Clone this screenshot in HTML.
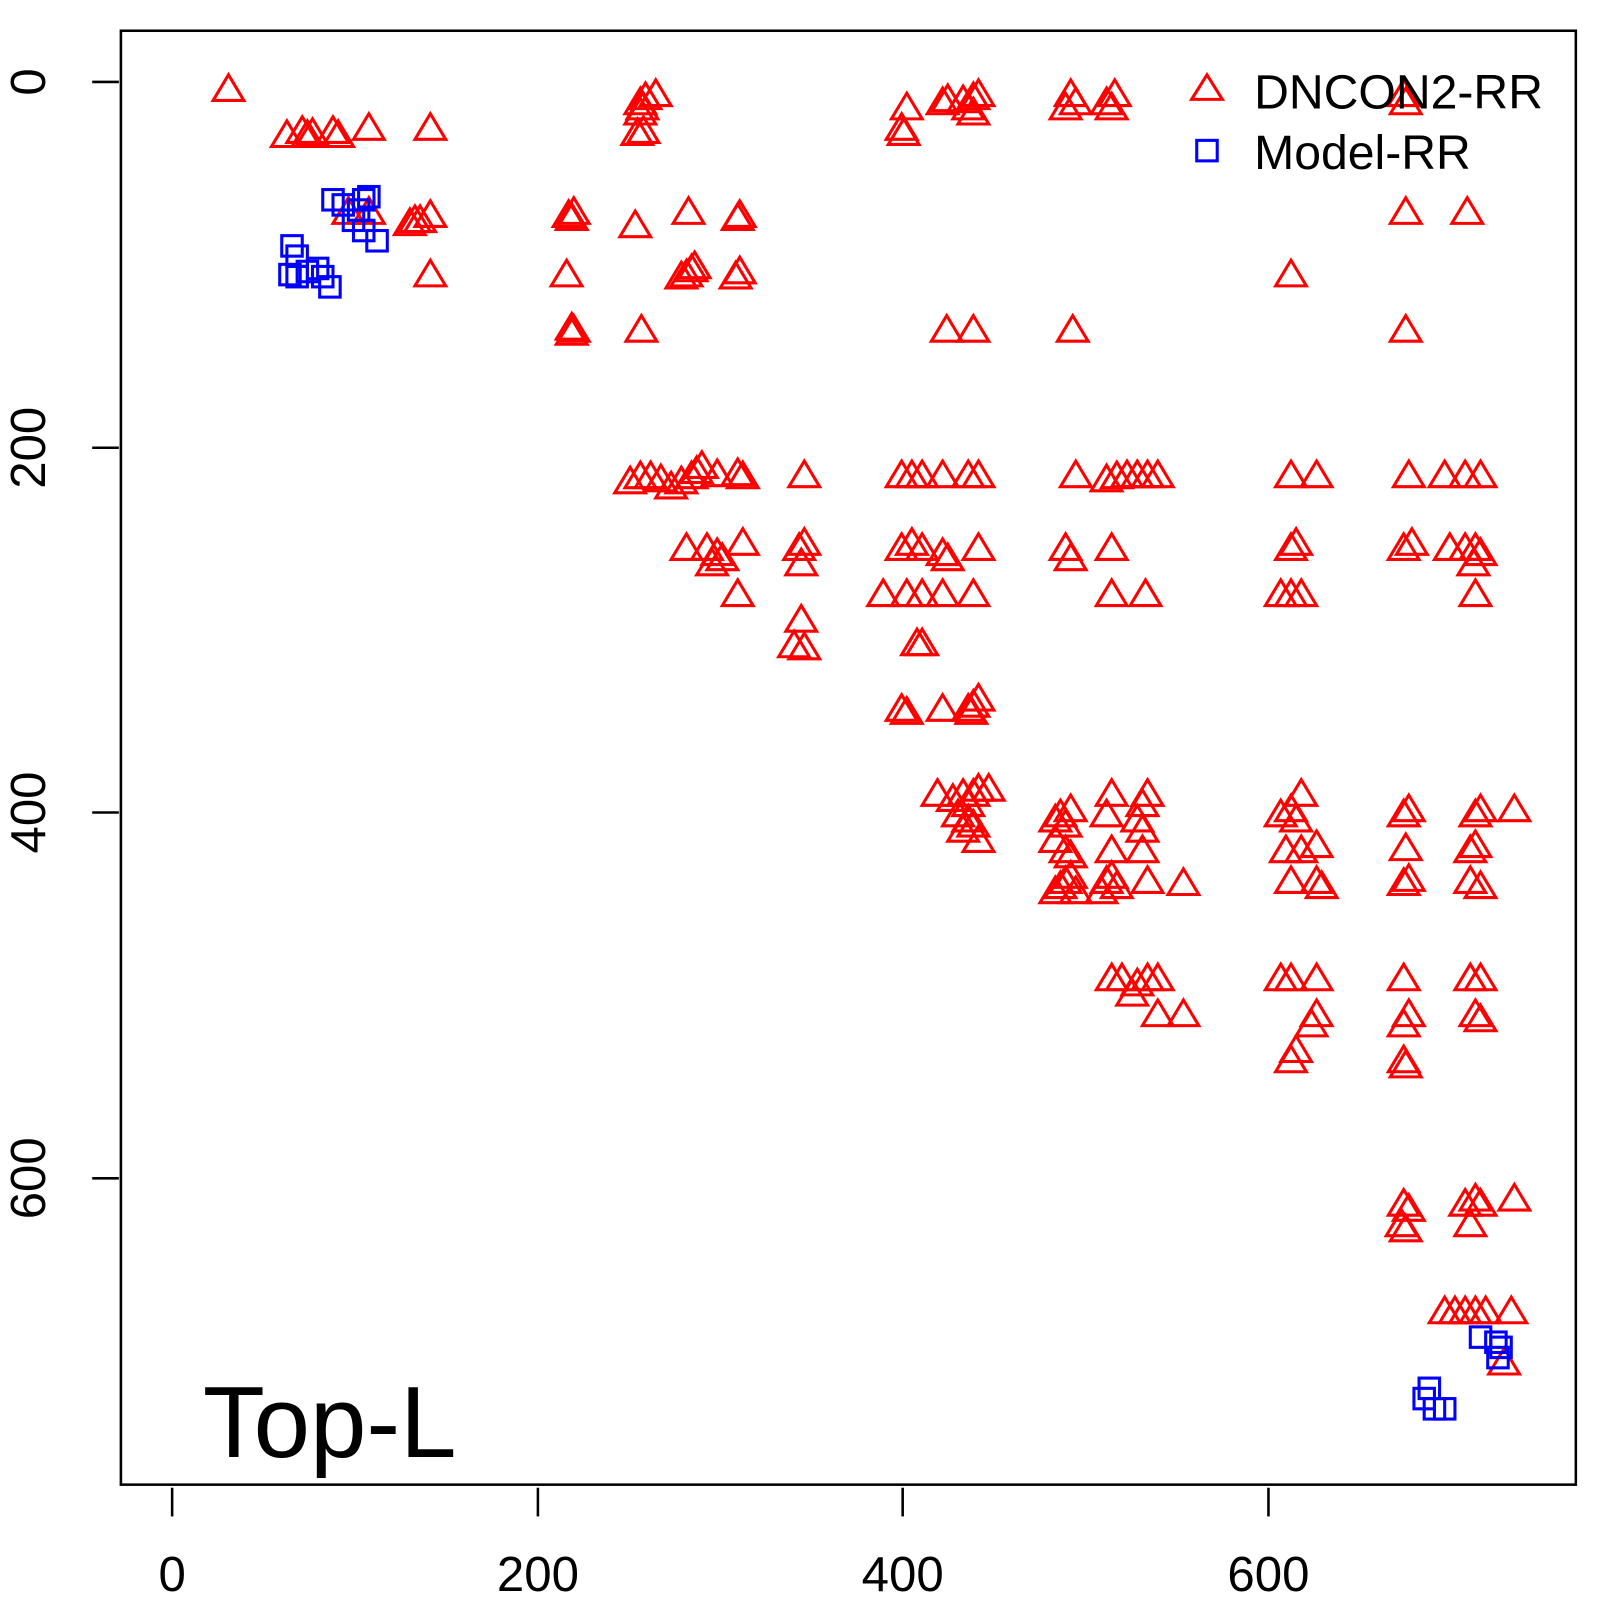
<!DOCTYPE html>
<html><head><style>body{margin:0;background:#fff}</style></head><body>
<svg id="s" width="1600" height="1600" xmlns="http://www.w3.org/2000/svg" font-family="Liberation Sans, sans-serif">
<g transform="scale(1.0246)">
<rect x="118" y="30" width="1420" height="1419" fill="none" stroke="#000" stroke-width="2.5"/>
<g stroke="#000" stroke-width="2.5">
<line x1="168" y1="1452" x2="168" y2="1480"/><line x1="525" y1="1452" x2="525" y2="1480"/>
<line x1="881" y1="1452" x2="881" y2="1480"/><line x1="1238" y1="1452" x2="1238" y2="1480"/>
<line x1="90" y1="80" x2="116" y2="80"/><line x1="90" y1="437" x2="116" y2="437"/>
<line x1="90" y1="793" x2="116" y2="793"/><line x1="90" y1="1150" x2="116" y2="1150"/>
</g>
<g font-size="48" text-anchor="middle">
<text x="168" y="1553">0</text><text x="525" y="1553">200</text><text x="881" y="1553">400</text><text x="1238" y="1553">600</text>
<text transform="translate(44,80) rotate(-90)">0</text>
<text transform="translate(44,437) rotate(-90)">200</text>
<text transform="translate(44,793) rotate(-90)">400</text>
<text transform="translate(44,1150) rotate(-90)">600</text>
</g>
<text x="198" y="1422" font-size="99">Top-L</text>
<g id="pts" fill="none" stroke-width="3"></g>
<path d="M1178,73 L1163,97 L1193,97 Z" fill="none" stroke="red" stroke-width="3"/>
<rect x="1168" y="137" width="20" height="20" fill="none" stroke="blue" stroke-width="3"/>
<text x="1224" y="106" font-size="47">DNCON2-RR</text>
<text x="1224" y="165" font-size="47">Model-RR</text>
</g>
</svg>
<script>
var t=[223,87,280,132,295,128,300,132,305,130,330,132,325,128,360,125,420,125,340,207,360,207,400,218,405,215,410,215,420,210,420,268,555,210,560,207,558,213,553,268,558,325,560,322,558,320,620,220,626,322,625,100,630,95,640,92,627,105,622,130,628,128,625,110,672,207,665,270,670,268,675,263,678,260,720,213,722,210,718,270,722,265,885,105,882,130,880,125,920,100,925,97,940,98,950,95,955,92,950,110,945,105,924,322,950,322,1045,92,1050,100,1040,105,1080,100,1088,92,1085,105,1047,322,1372,100,1370,92,1372,207,1372,322,1260,268,1432,207,
615,470,625,465,635,465,645,468,655,475,665,470,675,465,680,460,685,455,700,463,725,465,720,462,785,464,880,464,890,464,900,464,920,464,945,464,955,464,1050,464,1080,468,1090,465,1100,464,1110,464,1120,464,1130,464,1260,464,1285,464,1375,464,1410,464,1430,464,1445,464,
670,535,690,535,700,540,695,550,725,530,705,545,720,580,780,535,785,530,782,550,880,535,890,530,900,535,920,540,925,545,955,535,1040,535,1045,545,1085,535,1260,535,1265,530,1370,535,1378,530,1415,535,1430,535,1440,535,1445,540,1438,550,1440,580,862,580,885,580,900,580,920,580,950,580,1085,580,1118,580,1250,580,1260,580,1270,580,
782,605,775,630,785,632,895,628,900,628,880,692,885,695,920,692,945,692,950,688,955,682,948,695,
915,775,930,780,940,775,945,785,950,775,955,770,965,770,935,795,945,800,950,805,955,820,940,810,
1030,800,1035,795,1040,805,1045,790,1040,830,1045,835,1030,820,1085,775,1080,795,1085,830,1110,800,1115,785,1120,775,1115,810,1115,830,1120,860,1155,862,1030,870,1035,865,1040,860,1045,855,1050,870,1080,860,1085,855,1090,865,1075,870,
1250,795,1260,790,1270,775,1265,800,1255,830,1270,830,1285,825,1260,860,1285,860,1290,865,1370,795,1375,790,1372,828,1370,862,1375,858,1440,795,1445,790,1435,830,1440,825,1445,865,1435,860,1478,790,
1085,955,1095,955,1110,960,1120,955,1130,955,1105,970,1130,990,1155,990,1250,955,1260,955,1285,955,1285,990,1280,1000,1265,1025,1260,1035,1370,955,1375,990,1370,1000,1370,1035,1372,1040,1435,955,1445,955,1440,990,1445,995,
1370,1175,1372,1200,1368,1195,1375,1180,1430,1175,1440,1170,1445,1175,1435,1195,1478,1170,
1410,1280,1420,1280,1430,1280,1440,1280,1450,1280,1475,1280,1468,1330];
var b=[285,240,290,250,283,268,290,270,300,265,310,262,315,270,322,280,325,195,335,200,350,205,355,195,360,192,345,215,355,225,368,235,1395,1355,1390,1365,1400,1375,1410,1375,1445,1305,1460,1310,1465,1315,1462,1325];
var h='';
for(var i=0;i<t.length;i+=2){var x=t[i],y=t[i+1];h+='<path d="M'+x+','+(y-14)+' L'+(x-15)+','+(y+11)+' L'+(x+15)+','+(y+11)+' Z" stroke="red"/>';}
for(var i=0;i<b.length;i+=2){h+='<rect x="'+(b[i]-10)+'" y="'+(b[i+1]-10)+'" width="20" height="20" stroke="blue"/>';}
document.getElementById('pts').innerHTML=h;
</script>
</body></html>
